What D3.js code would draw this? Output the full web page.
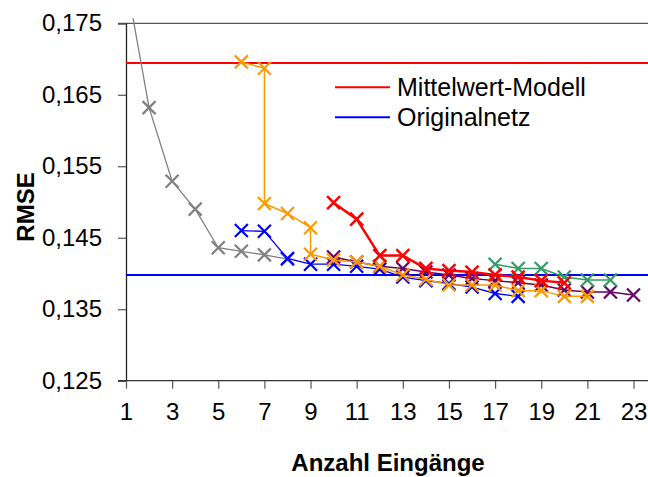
<!DOCTYPE html>
<html>
<head>
<meta charset="utf-8">
<script src="https://cdn.jsdelivr.net/npm/d3@7"></script>
<style>
  body { margin: 0; background: #fff; }
  text { font-family: Arial, "Liberation Sans", sans-serif; fill: #000; }
</style>
</head>
<body>
<svg id="chart" width="648" height="477"></svg>
<script>
// x ticks and y ticks
var xTicks = [1, 3, 5, 7, 9, 11, 13, 15, 17, 19, 21, 23];
var yTicks = [0.125, 0.135, 0.145, 0.155, 0.165, 0.175];

// reference lines
var mittelwertRMSE = 0.16945;
var originalRMSE = 0.13979;

// series (Anzahl Eingaenge, RMSE)
var grayX = [1, 2, 3, 4, 5, 6, 7, 8];
var grayY = [0.1812, 0.1632, 0.1529, 0.1490, 0.1436, 0.1431, 0.1426, 0.1420];

var blueX = [6, 7, 8, 9, 10, 11, 12, 13, 14, 15, 16, 17, 18];
var blueY = [0.1460, 0.1459, 0.1421, 0.1413, 0.1413, 0.1410, 0.1406, 0.1395, 0.1390, 0.1386, 0.1381, 0.1372, 0.1368];

var purpleX = [10, 11, 12, 13, 14, 15, 16, 17, 18, 19, 20, 21, 22, 23];
var purpleY = [0.1423, 0.1416, 0.1410, 0.1407, 0.1402, 0.1398, 0.1393, 0.1390, 0.1387, 0.1384, 0.1377, 0.1374, 0.1374, 0.1370];

var orangeX = [6, 7, 7, 8, 9, 9, 10, 11, 12, 13, 14, 15, 16, 17, 18, 19, 20, 21];
var orangeY = [0.1696, 0.1687, 0.1498, 0.1484, 0.1464, 0.1427, 0.1419, 0.1416, 0.1410, 0.1398, 0.1392, 0.1384, 0.1384, 0.1384, 0.1376, 0.1376, 0.1368, 0.1368];

var greenX = [17, 18, 19, 20, 21, 22];
var greenY = [0.1413, 0.1407, 0.1407, 0.1395, 0.1391, 0.1391];

var redX = [10, 11, 12, 13, 14, 15, 16, 17, 18, 19, 20];
var redY = [0.1499, 0.1476, 0.1425, 0.1425, 0.1407, 0.1404, 0.1402, 0.1398, 0.1395, 0.1390, 0.1387];

var legendNames = ["Mittelwert-Modell", "Originalnetz"];

// drawing
var svg = d3.select("#chart");

var xScale = d3.scaleLinear().domain([1, 23]).range([126, 633.5]);
var yScale = d3.scaleLinear().domain([0.125, 0.175]).range([380.7, 23.3]);
var plotRight = 648;

var fmt = function(d) { return d3.format(".3f")(d).replace(".", ","); };

// clip for the series (line of first point goes above the top)
svg.append("clipPath").attr("id", "plotclip")
    .append("rect")
    .attr("x", xScale(1))
    .attr("y", yScale(0.175) - 5)
    .attr("width", plotRight - xScale(1))
    .attr("height", yScale(0.125) - yScale(0.175) + 5);

// top line
svg.append("line")
    .attr("x1", xScale(1) - 8).attr("x2", plotRight)
    .attr("y1", yScale(0.175)).attr("y2", yScale(0.175))
    .attr("stroke", "#555").attr("stroke-width", 1.2);

// y axis
var yAxis = d3.axisLeft(yScale).tickValues(yTicks).tickFormat(fmt).tickSize(8).tickPadding(16);
var gy = svg.append("g").attr("transform", "translate(" + xScale(1) + ",0)").call(yAxis);
gy.select(".domain").attr("stroke", "#222").attr("stroke-width", 1.3);
gy.selectAll(".tick line").attr("stroke", "#555").attr("stroke-width", 1.2);
gy.selectAll(".tick text").style("font-size", "24px").attr("fill", "#000");

// x axis
var xAxis = d3.axisBottom(xScale).tickValues(xTicks).tickSize(8).tickPadding(14);
var gx = svg.append("g").attr("transform", "translate(0," + yScale(0.125) + ")").call(xAxis);
gx.select(".domain").attr("d", "M" + (xScale(1) - 8) + ",0H" + plotRight)
    .attr("stroke", "#333").attr("stroke-width", 1.3);
gx.selectAll(".tick line").attr("stroke", "#555").attr("stroke-width", 1.2);
gx.selectAll(".tick text").style("font-size", "24px").attr("fill", "#000");

// axis titles
svg.append("text")
    .attr("x", 388).attr("y", 471)
    .attr("text-anchor", "middle")
    .style("font-size", "24px").style("font-weight", "bold")
    .text("Anzahl Eingänge");

svg.append("text")
    .attr("transform", "translate(34,207) rotate(-90)")
    .attr("text-anchor", "middle")
    .style("font-size", "24px").style("font-weight", "bold")
    .text("RMSE");

var plot = svg.append("g").attr("clip-path", "url(#plotclip)");

// reference lines
plot.append("line")
    .attr("x1", xScale(1)).attr("x2", plotRight)
    .attr("y1", yScale(mittelwertRMSE)).attr("y2", yScale(mittelwertRMSE))
    .attr("stroke", "#ff0000").attr("stroke-width", 2);
plot.append("line")
    .attr("x1", xScale(1)).attr("x2", plotRight)
    .attr("y1", yScale(originalRMSE)).attr("y2", yScale(originalRMSE))
    .attr("stroke", "#0000ff").attr("stroke-width", 2);

var line = d3.line().x(function(d) { return xScale(d[0]); }).y(function(d) { return yScale(d[1]); });

function drawSeries(xs, ys, color, lineWidth, markWidth) {
    var pts = d3.zip(xs, ys);
    plot.append("path")
        .datum(pts)
        .attr("d", line)
        .attr("fill", "none")
        .attr("stroke", color)
        .attr("stroke-width", lineWidth);
    var s = 6.5;
    plot.selectAll(null)
        .data(pts)
        .enter()
        .append("path")
        .attr("d", function(d) {
            var cx = xScale(d[0]), cy = yScale(d[1]);
            return "M" + (cx - s) + "," + (cy - s) + "L" + (cx + s) + "," + (cy + s) +
                   "M" + (cx - s) + "," + (cy + s) + "L" + (cx + s) + "," + (cy - s);
        })
        .attr("stroke", color)
        .attr("stroke-width", markWidth);
}

drawSeries(grayX, grayY, "#808080", 1.3, 2.2);
drawSeries(blueX, blueY, "#0000ff", 1.3, 2.2);
drawSeries(purpleX, purpleY, "#660066", 1.5, 2.2);
drawSeries(orangeX, orangeY, "#ff9900", 1.5, 2.2);
drawSeries(greenX, greenY, "#339966", 1.5, 2.2);
drawSeries(redX, redY, "#ff0000", 2.5, 2.5);

// legend
var legendColors = ["#ff0000", "#0000ff"];
var legend = svg.append("g");
legendNames.forEach(function(name, i) {
    var ly = 87.3 + i * 30;
    legend.append("line")
        .attr("x1", 335).attr("x2", 390)
        .attr("y1", ly).attr("y2", ly)
        .attr("stroke", legendColors[i]).attr("stroke-width", 2);
    legend.append("text")
        .attr("x", 397).attr("y", ly)
        .attr("dy", "0.35em")
        .style("font-size", "25px")
        .text(name);
});
</script>
</body>
</html>
